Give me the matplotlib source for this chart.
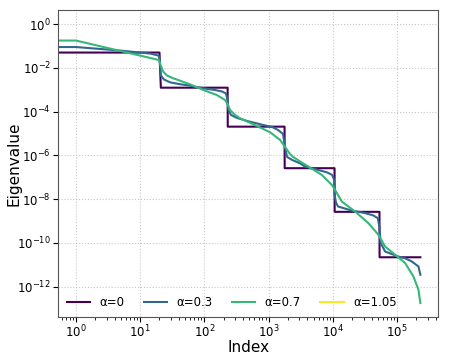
import numpy as np
import matplotlib
matplotlib.use("Agg")
import matplotlib.pyplot as plt
from matplotlib.ticker import NullLocator, NullFormatter, LogLocator

# ---- data ----
labels = ["α=0", "α=0.3", "α=0.7", "α=1.05"]

# alpha = 0: piecewise-constant spectrum (block sizes and levels)
block_sizes = [21, 210, 1540, 8855, 42504, 177100]
block_levels = [5.0e-2, 1.24e-3, 2.06e-5, 2.61e-7, 2.65e-9, 2.23e-11]

# alpha = 0.3: sampled (log10 index, log10 eigenvalue)
a03_log_idx = [0.0, 0.685, 1.153, 1.285, 1.301, 1.322, 1.371, 1.464, 1.620, 1.776,
               1.978, 2.165, 2.274, 2.336, 2.360, 2.375, 2.414, 2.508, 2.664, 2.913,
               3.053, 3.146, 3.224, 3.255, 3.287, 3.364, 3.489, 3.567, 3.769, 3.910,
               3.988, 4.019, 4.026, 4.050, 4.081, 4.294, 4.502, 4.626, 4.699, 4.727,
               4.743, 4.813, 5.016, 5.125, 5.229, 5.332, 5.362]
a03_log_val = [-1.049, -1.209, -1.346, -1.437, -1.55, -2.35, -2.532, -2.660, -2.746, -2.815,
               -2.933, -3.011, -3.079, -3.171, -3.467, -3.923, -4.151, -4.288, -4.425, -4.608,
               -4.699, -4.836, -5.018, -5.611, -6.068, -6.204, -6.364, -6.510, -6.661, -6.775,
               -6.889, -7.117, -7.801, -8.166, -8.335, -8.517, -8.636, -8.736, -8.864, -9.307,
               -9.991, -10.388, -10.616, -10.698, -10.844, -11.072, -11.451]

# alpha = 0.7: sampled (log10 index, log10 eigenvalue)
a07_log_idx = [0.0, 1.293, 1.324, 1.360, 1.417, 1.516, 1.776, 1.983, 2.192, 2.321,
               2.368, 2.399, 2.477, 2.555, 2.815, 3.022, 3.178, 3.255, 3.333, 3.380,
               3.489, 3.614, 3.827, 3.983, 4.034, 4.139, 4.346, 4.553, 4.709, 4.813,
               4.969, 5.125, 5.254, 5.332, 5.362]
a07_log_val = [-0.753, -1.642, -1.916, -2.176, -2.349, -2.477, -2.751, -3.011, -3.239, -3.467,
               -3.695, -3.923, -4.151, -4.302, -4.653, -4.941, -5.292, -5.611, -5.931, -6.068,
               -6.273, -6.501, -6.889, -7.345, -7.573, -8.107, -8.563, -9.092, -9.626, -10.160,
               -10.538, -10.917, -11.528, -12.135, -12.742]

# alpha = 1.05: not visible in the plotted range
a105_idx = []
a105_val = []

# ---- build series ----
n_total = sum(block_sizes)
idx0 = np.arange(n_total)
val0 = np.repeat(block_levels, block_sizes)

idx03 = np.concatenate([[0], 10 ** np.array(a03_log_idx)])
val03 = np.concatenate([[10 ** a03_log_val[0]], 10 ** np.array(a03_log_val)])
idx07 = np.concatenate([[0], 10 ** np.array(a07_log_idx)])
val07 = np.concatenate([[10 ** a07_log_val[0]], 10 ** np.array(a07_log_val)])

colors = [plt.cm.viridis(v) for v in np.linspace(0, 1, 4)]

fig = plt.figure(figsize=(4.49, 3.59), dpi=100)
ax = fig.add_axes([0.129, 0.117, 0.847, 0.855])

lw = 1.5
ax.loglog(idx0, val0, color=colors[0], lw=lw, label=labels[0])
ax.loglog(idx03, val03, color=colors[1], lw=lw, label=labels[1])
ax.loglog(idx07, val07, color=colors[2], lw=lw, label=labels[2])
ax.loglog(a105_idx, a105_val, color=colors[3], lw=lw, label=labels[3])

ax.set_ylim(10 ** -13.38, 10 ** 0.64)
ax.set_xlim(10 ** -0.28, 10 ** 5.64)
ax.set_xticks([10.0 ** k for k in range(0, 6)])
ax.xaxis.set_minor_locator(LogLocator(base=10, subs=np.arange(2, 10), numticks=20))
ax.xaxis.set_minor_formatter(NullFormatter())
ax.set_yticks([10.0 ** k for k in range(0, -13, -2)])
ax.yaxis.set_minor_locator(NullLocator())

ax.grid(True, which="major", color="#c8c8c8", linestyle=":", linewidth=0.8)
ax.tick_params(labelsize=8.5, pad=1.5)
ax.tick_params(which="minor", length=2)
for s in ax.spines.values():
    s.set_color("#555555")

ax.set_xlabel("Index", fontsize=11)
ax.set_ylabel("Eigenvalue", fontsize=11)
ax.xaxis.set_label_coords(0.5, -0.074)
ax.yaxis.set_label_coords(-0.097, 0.5)

ax.legend(loc="lower center", ncol=4, frameon=False, fontsize=8.5,
          handlelength=2.0, handletextpad=0.8, columnspacing=1.6,
          bbox_to_anchor=(0.457, -0.01))

fig.savefig("out.png", dpi=100)
